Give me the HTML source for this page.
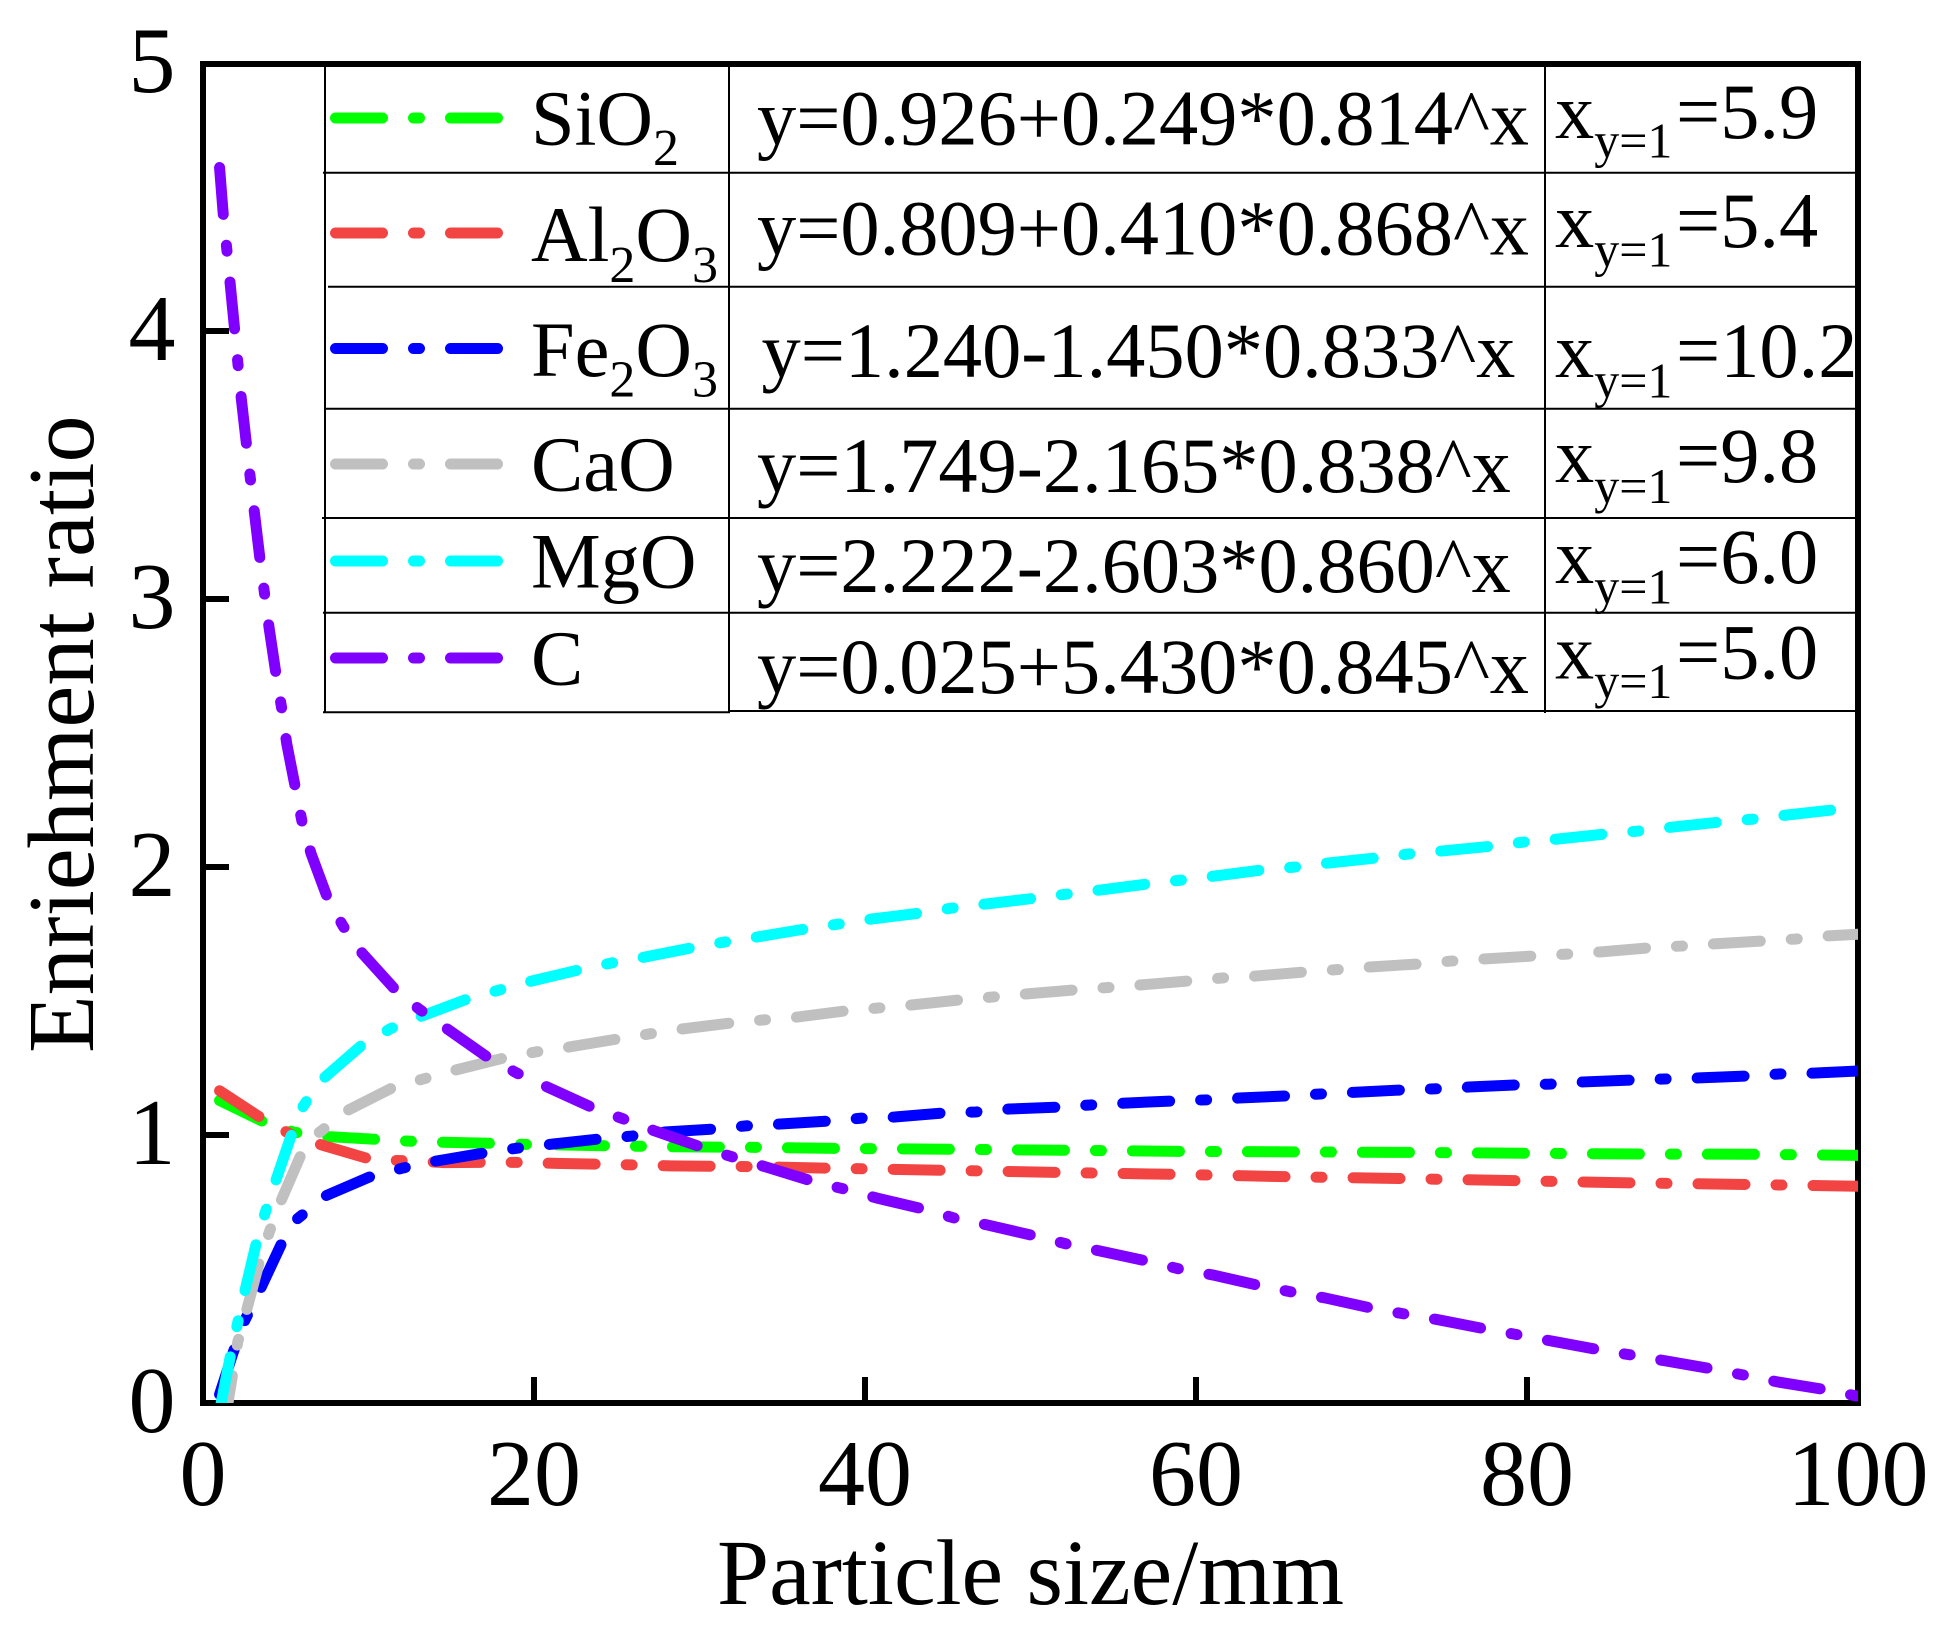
<!DOCTYPE html>
<html lang="en">
<head>
<meta charset="utf-8">
<title>Enrichment ratio vs particle size</title>
<style>
html,body{margin:0;padding:0;background:#fff;}
svg{display:block;}
text{font-family:"Liberation Serif",serif;fill:#000;}
.cell{font-size:78.4px;}
.tick{font-size:94px;}
.title{font-size:93.7px;}
.ytitle{font-size:94.5px;}
</style>
</head>
<body>
<svg id="chart" xmlns="http://www.w3.org/2000/svg" width="1953" height="1631" viewBox="0 0 1953 1631">
  <defs>
    <clipPath id="plot-clip"><rect x="203" y="64" width="1655" height="1339"/></clipPath>
  </defs>
  <rect x="0" y="0" width="1953" height="1631" fill="#fff"/>
  <rect x="203" y="64" width="1655" height="1339" fill="none" stroke="#000" stroke-width="6"/>
  <g id="ticks"></g>

  <g stroke="#000" stroke-width="2" fill="none">
    <line x1="323" y1="172.7" x2="1856" y2="172.7"/>
    <line x1="328" y1="286.7" x2="1856" y2="286.7"/>
    <line x1="325" y1="408.7" x2="1856" y2="408.7"/>
    <line x1="322" y1="518" x2="1856" y2="518"/>
    <line x1="323" y1="612.7" x2="1856" y2="612.7"/>
    <line x1="323" y1="712.3" x2="730" y2="712.3"/>
    <line x1="729" y1="711" x2="1856" y2="711"/>
    <line x1="325" y1="64" x2="325" y2="713"/>
    <line x1="729" y1="64" x2="729" y2="713"/>
    <line x1="1545" y1="64" x2="1545" y2="713"/>
  </g>

  <g fill="none" stroke-width="11" stroke-linecap="round" stroke-dasharray="47 31 6 31">
    <line x1="335.5" y1="118" x2="498" y2="118" stroke="#00ff00"/>
    <line x1="335.5" y1="233" x2="498" y2="233" stroke="#f34444"/>
    <line x1="335.5" y1="348.5" x2="498" y2="348.5" stroke="#0000ff"/>
    <line x1="335.5" y1="464" x2="498" y2="464" stroke="#c0c0c0"/>
    <line x1="335.5" y1="561" x2="498" y2="561" stroke="#00ffff"/>
    <line x1="335.5" y1="658" x2="498" y2="658" stroke="#8000ff"/>
  </g>

  <g class="cell">
    <text x="531" y="144.5">SiO<tspan y="165" font-size="52">2</tspan></text>
    <text x="531" y="261">Al<tspan y="282" font-size="52">2</tspan><tspan y="261">O</tspan><tspan y="282" font-size="52">3</tspan></text>
    <text x="531" y="376">Fe<tspan y="396.5" font-size="52">2</tspan><tspan y="376">O</tspan><tspan y="396.5" font-size="52">3</tspan></text>
    <text x="531" y="490.5">CaO</text>
    <text x="531" y="587.5">MgO</text>
    <text x="531" y="684.5">C</text>
  </g>

  <g class="cell">
    <text x="757" y="144.5">y=0.926+0.249*0.814^x</text>
    <text x="757" y="254.5">y=0.809+0.410*0.868^x</text>
    <text x="761.5" y="377">y=1.240-1.450*0.833^x</text>
    <text x="757" y="492">y=1.749-2.165*0.838^x</text>
    <text x="757" y="592">y=2.222-2.603*0.860^x</text>
    <text x="757" y="693">y=0.025+5.430*0.845^x</text>
  </g>

  <g class="cell">
    <text x="1555" y="138">x<tspan y="157.5" font-size="50">y=1</tspan><tspan x="1676" y="138">=5.9</tspan></text>
    <text x="1555" y="247">x<tspan y="266.6" font-size="50">y=1</tspan><tspan x="1676" y="247">=5.4</tspan></text>
    <text x="1555" y="377">x<tspan y="397.5" font-size="50">y=1</tspan><tspan x="1676" y="377">=10.2</tspan></text>
    <text x="1555" y="482">x<tspan y="503" font-size="50">y=1</tspan><tspan x="1676" y="482">=9.8</tspan></text>
    <text x="1555" y="583">x<tspan y="603.5" font-size="50">y=1</tspan><tspan x="1676" y="583">=6.0</tspan></text>
    <text x="1555" y="678.6">x<tspan y="698" font-size="50">y=1</tspan><tspan x="1676" y="678.6">=5.0</tspan></text>
  </g>

  <g id="series" clip-path="url(#plot-clip)"></g>
  <g id="tick-labels" class="tick"></g>

  <text class="title" x="717" y="1604">Particle size/mm</text>
  <text class="ytitle" transform="translate(93,1053) rotate(-90)" x="0" y="0">Enriehment ratio</text>
</svg>
<script>
var xTicks = [0, 20, 40, 60, 80, 100];
var yTicks = [0, 1, 2, 3, 4, 5];

var sio2X = [1, 3.64, 5.52, 7.57, 10.45, 12.45, 14.5, 17.4, 19.4, 24.35, 28.4, 33.3, 38.2, 45.2, 52.1, 59.1, 66, 73, 79.9, 86.9, 93.8, 100];
var sio2Y = [1.129, 1.05, 1.01, 0.994, 0.984, 0.977, 0.973, 0.969, 0.965, 0.96, 0.956, 0.954, 0.95, 0.947, 0.943, 0.939, 0.937, 0.935, 0.932, 0.929, 0.928, 0.924];

var al2o3X = [1, 3.55, 5.46, 7.37, 10.25, 12.3, 14.6, 17.2, 19.2, 21.3, 24.2, 28.2, 33.1, 38.1, 45, 52, 58.9, 65.9, 72.8, 79.8, 86.7, 93.7, 100];
var al2o3Y = [1.165, 1.062, 0.997, 0.959, 0.907, 0.904, 0.897, 0.898, 0.898, 0.894, 0.891, 0.885, 0.882, 0.876, 0.868, 0.86, 0.853, 0.844, 0.837, 0.829, 0.821, 0.815, 0.809];

var fe2o3X = [1, 1.83, 2.54, 3.44, 4.71, 5.7, 7.37, 10.2, 12.1, 14.1, 17, 19, 21.1, 23.9, 25.9, 27.9, 30.8, 32.8, 34.9, 37.8, 39.8, 41.8, 44.7, 46.7, 48.7, 51.7, 53.6, 55.7, 58.6, 60.6, 62.6, 65.6, 67.5, 69.5, 72.4, 74.4, 76.5, 79.4, 81.4, 83.4, 86.3, 88.3, 90.4, 93.3, 95.3, 97.3, 100];
var fe2o3Y = [0.032, 0.19, 0.31, 0.422, 0.59, 0.687, 0.772, 0.847, 0.877, 0.903, 0.933, 0.951, 0.966, 0.985, 0.996, 1.011, 1.022, 1.034, 1.041, 1.052, 1.063, 1.067, 1.082, 1.086, 1.097, 1.104, 1.112, 1.119, 1.127, 1.131, 1.138, 1.146, 1.153, 1.159, 1.168, 1.172, 1.179, 1.187, 1.19, 1.198, 1.205, 1.209, 1.213, 1.22, 1.228, 1.231, 1.239];

var caoX = [1, 1.51, 1.81, 2.1, 2.64, 3.44, 4.03, 4.76, 5.86, 6.97, 8.68, 11.4, 13.3, 15.3, 18.15, 20.1, 22.1, 25, 26.95, 29, 31.9, 33.8, 35.9, 38.8, 40.8, 42.8, 45.7, 47.7, 49.7, 52.6, 54.6, 56.7, 59.6, 61.6, 63.6, 66.5, 68.5, 70.5, 73.4, 75.4, 77.5, 80.4, 82.4, 84.4, 87.3, 89.3, 91.3, 94.2, 96.2, 98.2, 100];
var caoY = [-0.065, 0, 0.116, 0.228, 0.347, 0.534, 0.642, 0.761, 0.918, 1.007, 1.09, 1.175, 1.209, 1.243, 1.287, 1.31, 1.328, 1.358, 1.377, 1.396, 1.418, 1.429, 1.44, 1.463, 1.474, 1.485, 1.504, 1.515, 1.526, 1.541, 1.55, 1.56, 1.575, 1.586, 1.593, 1.608, 1.617, 1.627, 1.638, 1.649, 1.657, 1.668, 1.675, 1.683, 1.698, 1.705, 1.713, 1.724, 1.731, 1.743, 1.749];

var mgoX = [1.1, 1.63, 2.04, 2.5, 3.18, 3.75, 4.35, 5.3, 6.06, 7.07, 9.53, 11.3, 13.23, 15.95, 17.9, 19.9, 22.7, 24.7, 26.7, 29.5, 31.5, 33.5, 36.4, 38.4, 40.4, 43.3, 45.3, 47.3, 50.3, 52.2, 54.2, 57.1, 59.1, 61.1, 64, 66, 68, 70.9, 72.9, 74.9, 77.9, 79.8, 81.8, 84.7, 86.7, 88.8, 91.7, 93.7, 95.7, 98.5, 100];
var mgoY = [0, 0.168, 0.284, 0.41, 0.586, 0.709, 0.821, 0.993, 1.108, 1.2, 1.332, 1.396, 1.444, 1.507, 1.541, 1.575, 1.616, 1.642, 1.664, 1.698, 1.72, 1.739, 1.769, 1.787, 1.806, 1.828, 1.847, 1.862, 1.884, 1.899, 1.914, 1.937, 1.951, 1.966, 1.989, 2.0, 2.015, 2.034, 2.049, 2.06, 2.078, 2.093, 2.104, 2.123, 2.134, 2.149, 2.168, 2.179, 2.194, 2.213, 2.222];

var carbonX = [1, 1.23, 1.43, 1.92, 2.31, 2.86, 3.46, 4.0, 4.41, 4.76, 5.06, 5.6, 5.98, 6.53, 7.55, 8.46, 9.6, 11.5, 13.05, 17.2, 19.0, 23.6, 25.4, 27.3, 30.1, 32.0, 34, 36.8, 38.7, 40.7, 43.5, 45.4, 47.4, 50.3, 52.2, 54.2, 57, 59, 61, 63.9, 65.8, 67.8, 70.6, 72.6, 74.7, 77.5, 79.5, 81.5, 84.4, 86.3, 88.4, 91.2, 93.2, 95.2, 98.1, 100];
var carbonY = [4.61, 4.43, 4.31, 4.0, 3.75, 3.45, 3.14, 2.89, 2.72, 2.59, 2.46, 2.29, 2.17, 2.05, 1.88, 1.78, 1.68, 1.55, 1.47, 1.29, 1.23, 1.10, 1.06, 1.015, 0.955, 0.918, 0.881, 0.828, 0.799, 0.765, 0.724, 0.69, 0.664, 0.623, 0.593, 0.567, 0.53, 0.50, 0.478, 0.437, 0.414, 0.392, 0.354, 0.332, 0.31, 0.276, 0.254, 0.231, 0.198, 0.179, 0.157, 0.127, 0.103, 0.078, 0.049, 0.025];

var SVGNS = 'http://www.w3.org/2000/svg';

function xScale(v) { return 203 + v * (1858 - 203) / 100; }
function yScale(v) { return 1403 - v * 268; }

function drawSeries(name, color, xs, ys) {
  var d = '';
  for (var i = 0; i < xs.length; i++) {
    d += (i ? 'L' : 'M') + xScale(xs[i]).toFixed(2) + ' ' + yScale(ys[i]).toFixed(2);
  }
  var p = document.createElementNS(SVGNS, 'path');
  
  
  p.setAttribute('d', d);
  p.setAttribute('fill', 'none');
  p.setAttribute('stroke', color);
  p.setAttribute('stroke-width', '11');
  p.setAttribute('stroke-linecap', 'round');
  p.setAttribute('stroke-linejoin', 'round');
  p.setAttribute('stroke-dasharray', '47 31 6 31');
  document.getElementById('series').appendChild(p);
}

drawSeries('series-line-sio2', '#00ff00', sio2X, sio2Y);
drawSeries('series-line-al2o3', '#f34444', al2o3X, al2o3Y);
drawSeries('series-line-fe2o3', '#0000ff', fe2o3X, fe2o3Y);
drawSeries('series-line-cao', '#c0c0c0', caoX, caoY);
drawSeries('series-line-mgo', '#00ffff', mgoX, mgoY);
drawSeries('series-line-c', '#8000ff', carbonX, carbonY);

var tickGroup = document.getElementById('ticks');
var labelGroup = document.getElementById('tick-labels');

xTicks.forEach(function (v) {
  var x = xScale(v);
  if (v > 0 && v < 100) {
    var t = document.createElementNS(SVGNS, 'line');
    
    
    t.setAttribute('x1', x);
    t.setAttribute('x2', x);
    t.setAttribute('y1', 1403);
    t.setAttribute('y2', 1377);
    t.setAttribute('stroke', '#000');
    t.setAttribute('stroke-width', '6');
    tickGroup.appendChild(t);
  }
  var l = document.createElementNS(SVGNS, 'text');
  
  
  l.setAttribute('x', x);
  l.setAttribute('y', 1505);
  l.setAttribute('text-anchor', 'middle');
  l.textContent = v;
  labelGroup.appendChild(l);
});

yTicks.forEach(function (v) {
  var y = yScale(v);
  if (v > 0 && v < 5) {
    var t = document.createElementNS(SVGNS, 'line');
    
    
    t.setAttribute('x1', 203);
    t.setAttribute('x2', 229);
    t.setAttribute('y1', y);
    t.setAttribute('y2', y);
    t.setAttribute('stroke', '#000');
    t.setAttribute('stroke-width', '6');
    tickGroup.appendChild(t);
  }
  var l = document.createElementNS(SVGNS, 'text');
  
  
  l.setAttribute('x', 152);
  l.setAttribute('y', y + 29);
  l.setAttribute('text-anchor', 'middle');
  l.textContent = v;
  labelGroup.appendChild(l);
});
</script>
</body>
</html>
